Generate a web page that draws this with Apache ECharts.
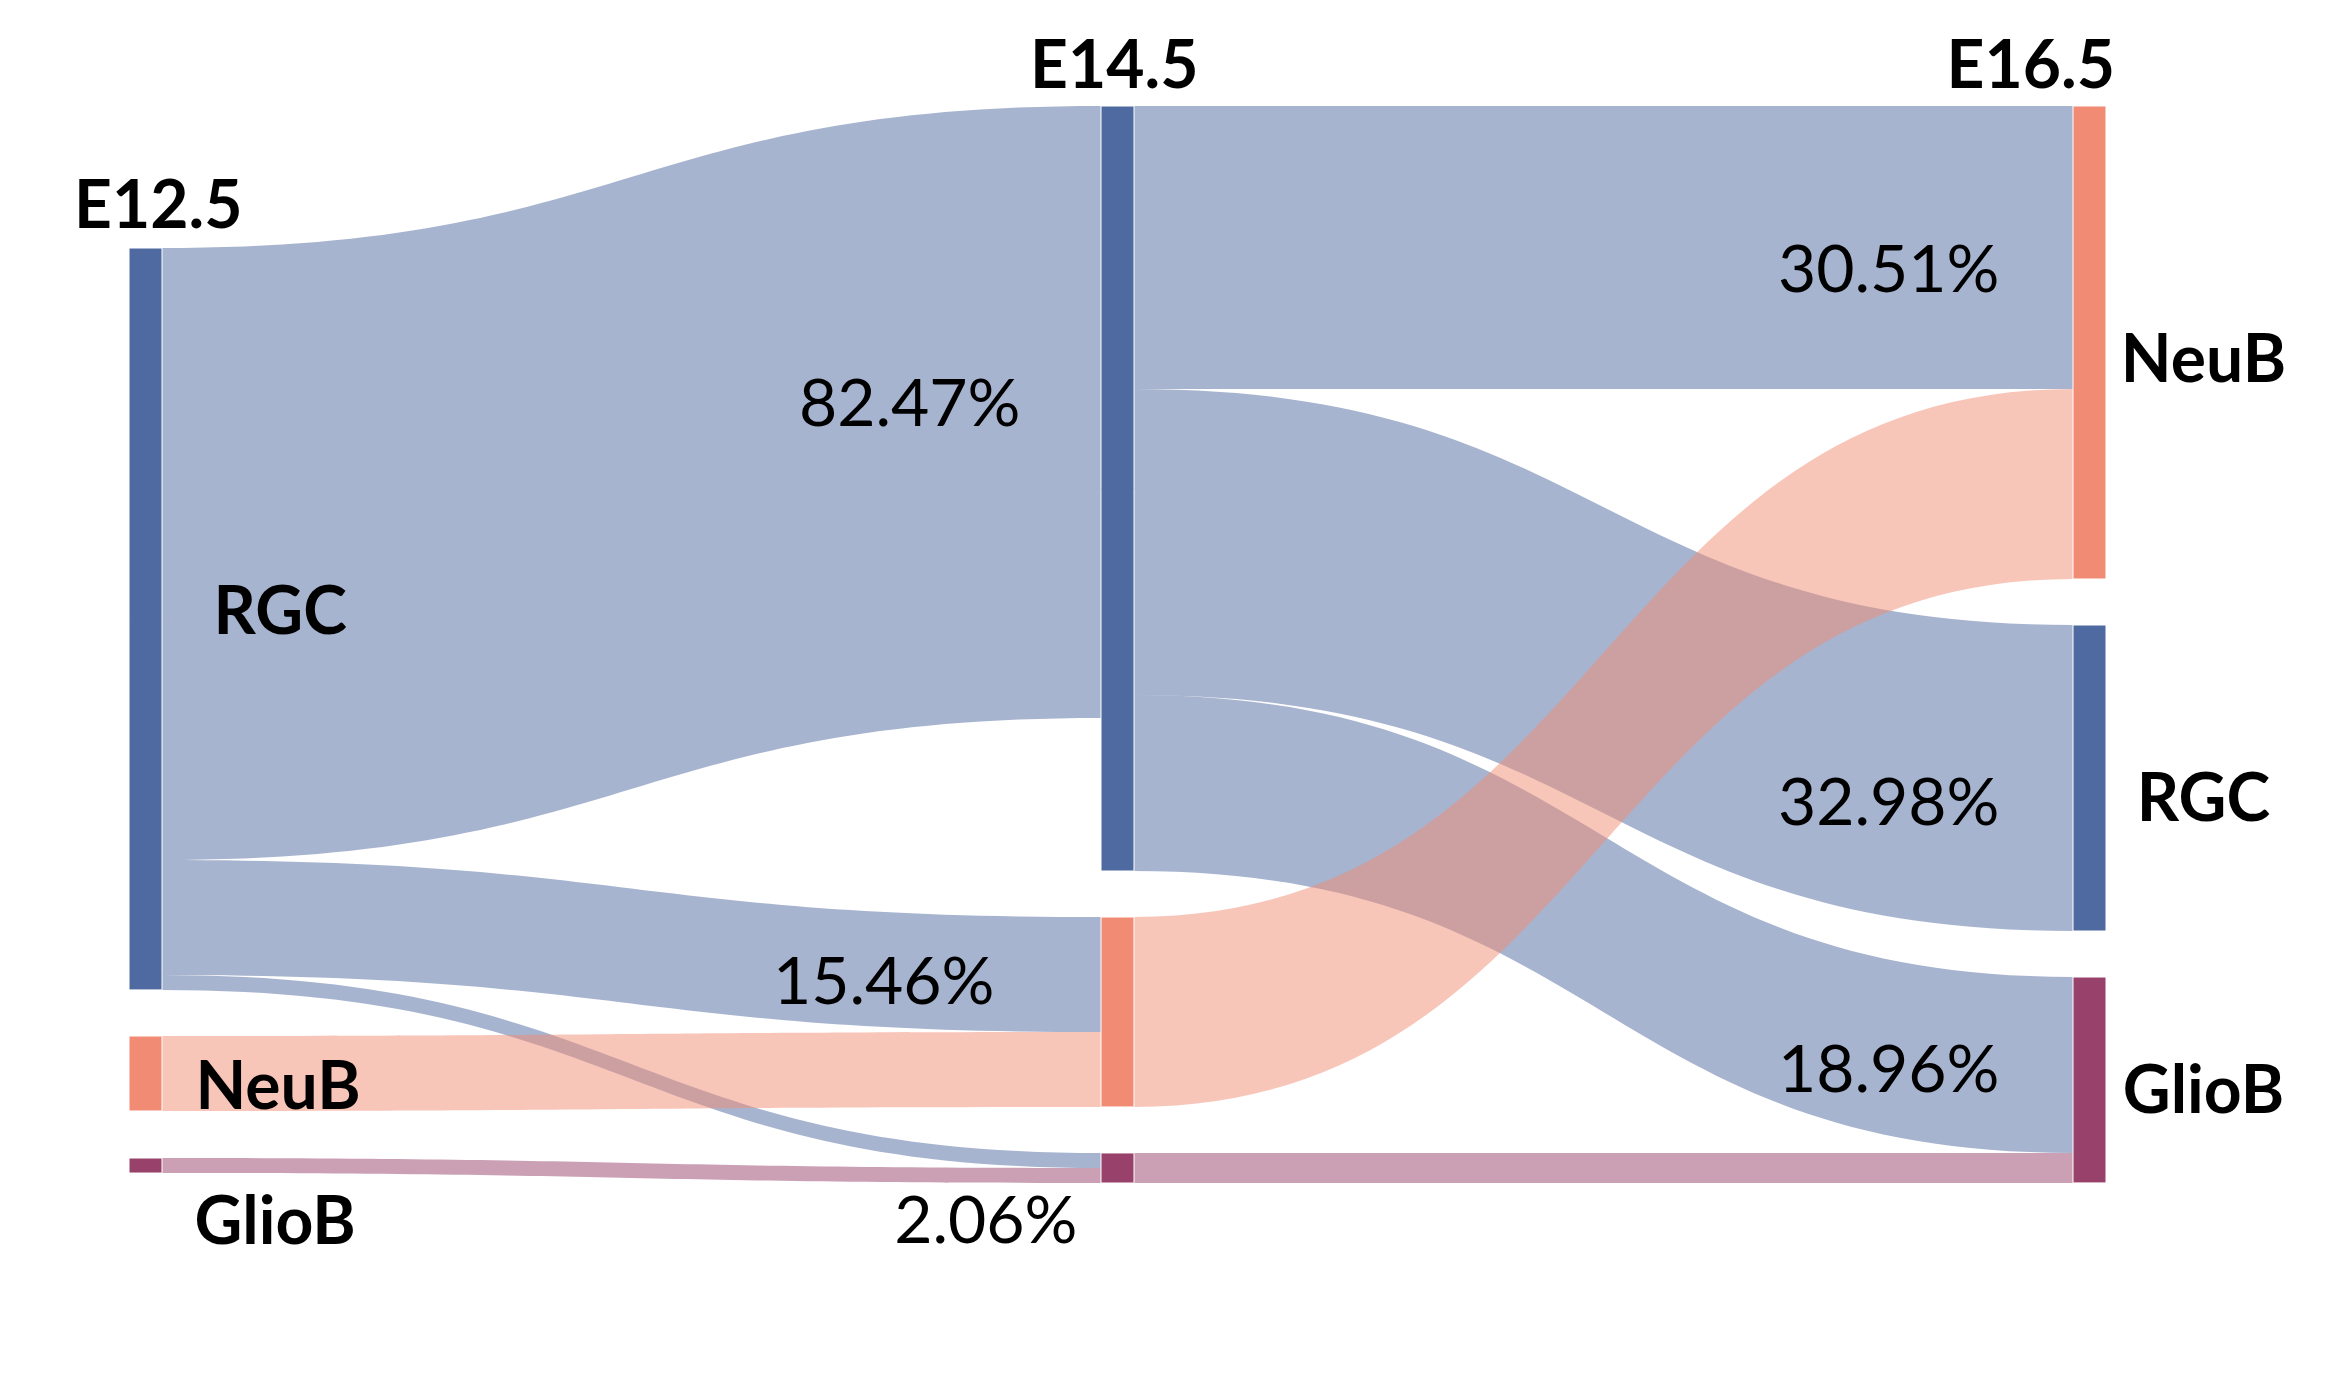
<!DOCTYPE html>
<html>
<head>
<meta charset="utf-8">
<script src="https://cdn.jsdelivr.net/npm/echarts@6/dist/echarts.min.js"></script>
<style>
  html, body { margin: 0; padding: 0; background: #fff; }
  #main { width: 2328px; height: 1398px; }
</style>
</head>
<body>
<div id="main"></div>
<script>
// 阶段 / 细胞类型
const stages = ['E12.5', 'E14.5', 'E16.5']
const nodeNames = [
  'E12.5 RGC', 'E12.5 NeuB', 'E12.5 GlioB',
  'E14.5 RGC', 'E14.5 NeuB', 'E14.5 GlioB',
  'E16.5 NeuB', 'E16.5 RGC', 'E16.5 GlioB'
]

// 流向（宽度按图上读出, 单位 %）
const linkSources = ['E12.5 RGC', 'E12.5 RGC', 'E12.5 RGC', 'E14.5 RGC', 'E14.5 RGC', 'E14.5 RGC', 'E12.5 NeuB', 'E14.5 NeuB', 'E12.5 GlioB', 'E14.5 GlioB']
const linkTargets = ['E14.5 RGC', 'E14.5 NeuB', 'E14.5 GlioB', 'E16.5 NeuB', 'E16.5 RGC', 'E16.5 GlioB', 'E14.5 NeuB', 'E16.5 NeuB', 'E14.5 GlioB', 'E16.5 GlioB']
const linkValues = [65.95, 12.39, 1.62, 30.51, 32.98, 18.96, 8.08, 20.47, 1.62, 3.23]

// E14.5 各类占比
const midShares = { 'E14.5 RGC': '82.47%', 'E14.5 NeuB': '15.46%', 'E14.5 GlioB': '2.06%' }

const typeColor = { RGC: '#4F6AA0', NeuB: '#F28B74', GlioB: '#98426B' }
const fontFamily = 'Lato'

// 节点标签位置
const nodeLabelCfg = {
  'E12.5 RGC': { position: 'right', distance: 51, offset: [0, -6] },
  'E12.5 NeuB': { position: 'right', distance: 33, offset: [0, 14] },
  'E12.5 GlioB': { position: 'right', distance: 32, offset: [0, 57] },
  'E14.5 RGC': { position: 'left', distance: 80, offset: [0, -84] },
  'E14.5 NeuB': { position: 'left', distance: 106, offset: [0, -29] },
  'E14.5 GlioB': { position: 'left', distance: 23, offset: [0, 54] },
  'E16.5 NeuB': { position: 'right', distance: 97, align: 'center', offset: [0, 18] },
  'E16.5 RGC': { position: 'right', distance: 97, align: 'center', offset: [0, 22] },
  'E16.5 GlioB': { position: 'right', distance: 97, align: 'center', offset: [0, 12] }
}
// E12.5 列整体下移
const leftColumnTop = { 'E12.5 RGC': 0.13185, 'E12.5 NeuB': 0.86351, 'E12.5 GlioB': 0.97679 }
// 流向百分比标签偏移
const edgeLabelOffset = { 3: [396, 23], 4: [396, 144], 5: [396, 147] }

const chart = echarts.init(document.getElementById('main'))

const nodes = nodeNames.map(name => {
  const type = name.split(' ')[1]
  const cfg = nodeLabelCfg[name]
  const isMid = name.indexOf('E14.5') === 0
  const node = {
    name: name,
    itemStyle: { color: typeColor[type], borderColor: '#fff', borderWidth: 1 },
    label: {
      show: true,
      position: cfg.position,
      distance: cfg.distance,
      offset: cfg.offset,
      align: cfg.align,
      formatter: isMid ? midShares[name] : type,
      fontFamily: fontFamily,
      fontWeight: isMid ? 'normal' : 'bold',
      fontSize: isMid ? 66 : 66,
      color: '#000'
    }
  }
  if (leftColumnTop[name] != null) node.localY = leftColumnTop[name]
  return node
})

const links = linkSources.map((s, i) => {
  const link = { source: s, target: linkTargets[i], value: linkValues[i] }
  if (edgeLabelOffset[i]) {
    link.edgeLabel = {
      show: true,
      formatter: linkValues[i].toFixed(2) + '%',
      align: 'right',
      offset: edgeLabelOffset[i],
      fontFamily: fontFamily,
      fontSize: 66,
      color: '#000'
    }
  }
  return link
})

const option = {
  backgroundColor: '#fff',
  animation: false,
  graphic: [
    { type: 'text', x: 74, y: 207, style: { text: stages[0], font: 'bold 66px ' + fontFamily, fill: '#000', align: 'left', verticalAlign: 'middle' } },
    { type: 'text', x: 1030, y: 67, style: { text: stages[1], font: 'bold 66px ' + fontFamily, fill: '#000', align: 'left', verticalAlign: 'middle' } },
    { type: 'text', x: 2115, y: 67, style: { text: stages[2], font: 'bold 66px ' + fontFamily, fill: '#000', align: 'right', verticalAlign: 'middle' } }
  ],
  series: [{
    type: 'sankey',
    left: 129,
    top: 106,
    width: 1977,
    height: 1077,
    nodeWidth: 33,
    nodeGap: 46,
    layoutIterations: 0,
    draggable: false,
    emphasis: { disabled: true },
    lineStyle: { color: 'source', opacity: 0.5, curveness: 0.5 },
    edgeLabel: { show: false },
    data: nodes,
    links: links
  }]
}

chart.setOption(option)
</script>
</body>
</html>
